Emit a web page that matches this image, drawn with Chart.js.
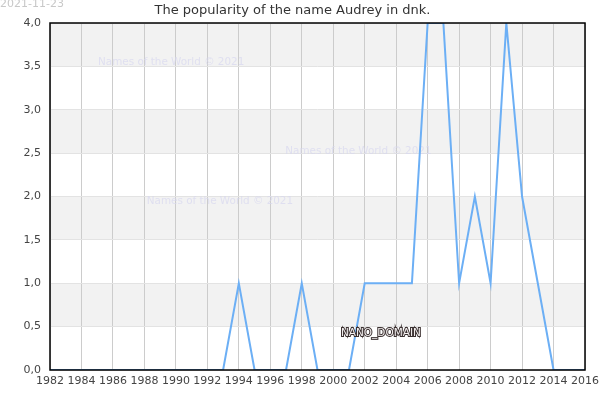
<!DOCTYPE html>
<html>
<head>
<meta charset="utf-8">
<script src="https://cdn.jsdelivr.net/npm/chart.js@4/dist/chart.umd.min.js"></script>
<style>
  html, body { margin: 0; padding: 0; background: #fff; }
  #wrap { width: 600px; height: 400px; position: relative; }
</style>
</head>
<body>
<div id="wrap"><canvas id="chart"></canvas></div>
<script>
// data
const years = [1982, 1983, 1984, 1985, 1986, 1987, 1988, 1989, 1990, 1991, 1992, 1993,
               1994, 1995, 1996, 1997, 1998, 1999, 2000, 2001, 2002, 2003, 2004, 2005,
               2006, 2007, 2008, 2009, 2010, 2011, 2012, 2013, 2014, 2015, 2016];
const counts = [0, 0, 0, 0, 0, 0, 0, 0, 0, 0, 0, 0,
                1, 0, 0, 0, 1, 0, 0, 0, 1, 1, 1, 1,
                4, 4, 1, 2, 1, 4, 2, 1, 0, 0, 0];
const titleText = 'The popularity of the name Audrey in dnk.';
const stampText = '2021-11-23';
const watermark = 'Names of the World © 2021';
// [x value, y value] where the faint watermark sits
const watermarkSpots = [[1989.7, 3.55], [2001.6, 2.52], [1992.8, 1.94]];
const domainLabel = 'NANO_DOMAIN';

Chart.defaults.font.family = "'DejaVu Sans', sans-serif";

// alternating grey bands between the y grid lines
const bands = {
    id: 'bands',
    beforeDraw(chart) {
        const { ctx, chartArea, scales } = chart;
        ctx.save();
        ctx.fillStyle = '#f2f2f2';
        for (let v = 4; v > 0; v -= 1) {
            const top = scales.y.getPixelForValue(v);
            const bot = scales.y.getPixelForValue(v - 0.5);
            ctx.fillRect(chartArea.left, top, chartArea.right - chartArea.left, bot - top);
        }
        ctx.restore();
    },
    beforeDatasetsDraw(chart) {
        const { ctx, scales } = chart;
        ctx.save();
        ctx.font = "10.4px 'DejaVu Sans'";
        ctx.fillStyle = 'rgba(215, 215, 240, 0.7)';
        ctx.textAlign = 'center';
        ctx.textBaseline = 'middle';
        watermarkSpots.forEach(([x, y]) => {
            ctx.fillText(watermark, scales.x.getPixelForValue(x), scales.y.getPixelForValue(y));
        });
        ctx.restore();
    },
    afterDraw(chart) {
        const { ctx, chartArea, scales } = chart;
        ctx.save();
        // box round the plot
        ctx.strokeStyle = '#000';
        ctx.lineWidth = 1.5;
        ctx.strokeRect(chartArea.left, chartArea.top,
                       chartArea.right - chartArea.left, chartArea.bottom - chartArea.top);
        // date stamp
        ctx.font = "11px 'DejaVu Sans'";
        ctx.fillStyle = '#c8c8c8';
        ctx.textAlign = 'left';
        ctx.textBaseline = 'middle';
        ctx.fillText(stampText, 0, 4);
        // outlined domain label
        ctx.font = "10.5px 'DejaVu Sans'";
        ctx.textAlign = 'center';
        ctx.lineWidth = 2;
        ctx.strokeStyle = '#3a3030';
        const lx = scales.x.getPixelForValue(2003.03);
        const ly = scales.y.getPixelForValue(0.42);
        ctx.strokeText(domainLabel, lx, ly);
        ctx.fillStyle = '#f4f0f0';
        ctx.fillText(domainLabel, lx, ly);
        ctx.restore();
    }
};

new Chart(document.getElementById('chart'), {
    type: 'line',
    data: {
        labels: years,
        datasets: [{
            data: counts,
            borderColor: '#6caff5',
            borderWidth: 2,
            pointRadius: 0,
            tension: 0,
            fill: false
        }]
    },
    options: {
        responsive: true,
        maintainAspectRatio: false,
        animation: false,
        layout: { padding: { left: 0, right: 15, top: 0, bottom: 0 } },
        scales: {
            x: {
                type: 'linear',
                min: 1982,
                max: 2016,
                afterFit(scale) {
                    scale.height = 30;
                    scale.paddingLeft = 0;
                    scale.paddingRight = 0;
                },
                border: { display: false },
                grid: { color: '#cccccc', drawTicks: false },
                ticks: {
                    stepSize: 2,
                    padding: 5,
                    color: '#444',
                    font: { size: 11 },
                    maxRotation: 0,
                    callback: v => String(v)
                }
            },
            y: {
                min: 0,
                max: 4,
                afterFit(scale) { scale.width = 50; },
                border: { display: false },
                grid: { color: '#e3e3e3', drawTicks: false },
                ticks: {
                    stepSize: 0.5,
                    padding: 9,
                    color: '#444',
                    font: { size: 11 },
                    callback: v => v.toFixed(1).replace('.', ',')
                }
            }
        },
        plugins: {
            legend: { display: false },
            tooltip: { enabled: false },
            title: {
                display: true,
                text: titleText,
                color: '#333',
                font: { size: 13, weight: 'normal' },
                padding: { top: 3, bottom: 4.4 }
            }
        }
    },
    plugins: [bands]
});
</script>
</body>
</html>
